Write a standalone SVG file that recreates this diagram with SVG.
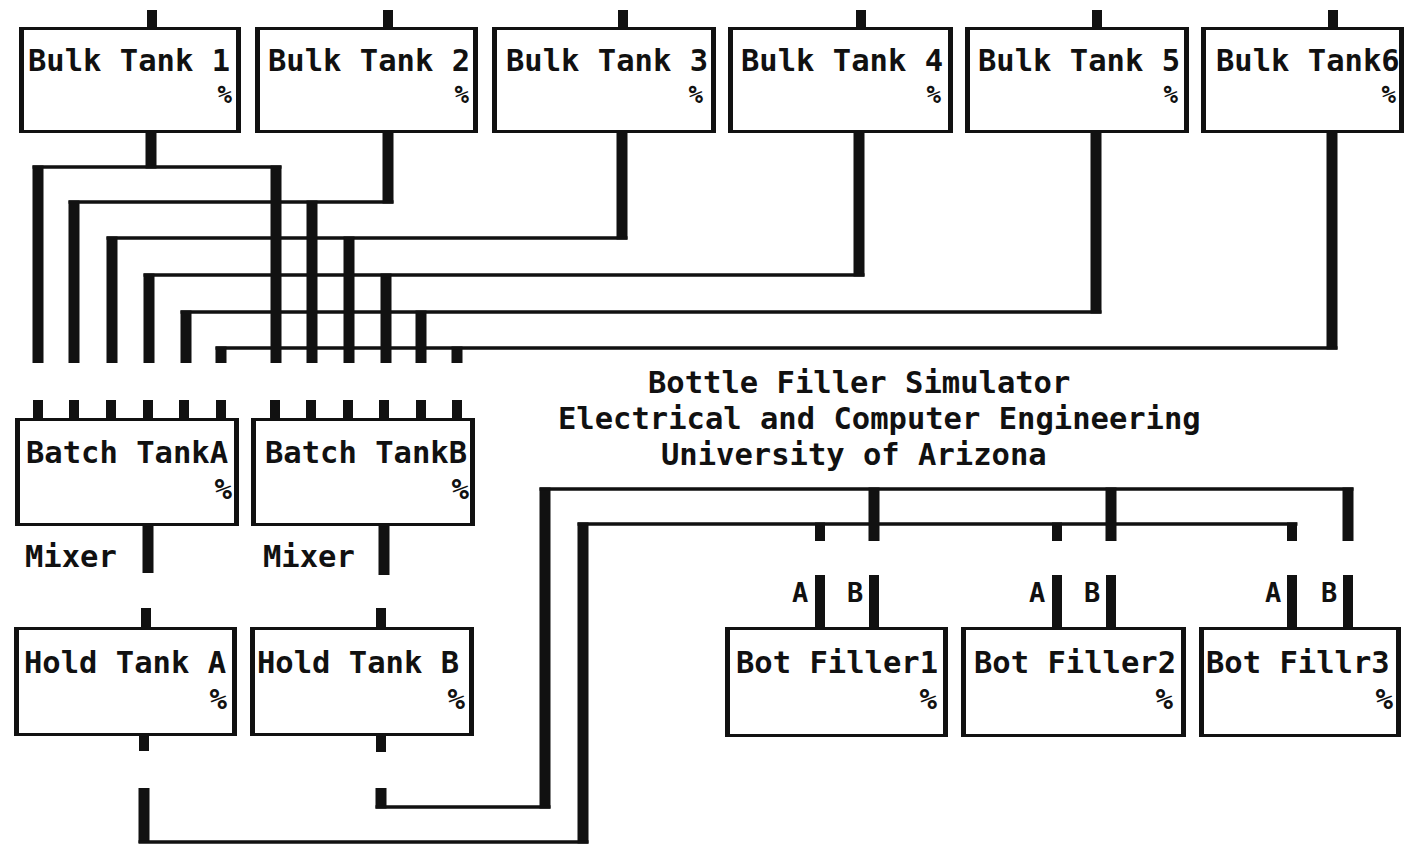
<svg xmlns="http://www.w3.org/2000/svg" width="1406" height="846" viewBox="0 0 1406 846">
<style>
.bg{fill:#fff}
.box{fill:#fff;stroke:#111;stroke-width:3}
.side{fill:none;stroke:#111;stroke-width:5}
.t{font-family:"DejaVu Sans Mono","Liberation Mono",monospace;font-weight:bold;font-size:30.5px;fill:#111}
.p{font-family:"DejaVu Sans Mono","Liberation Mono",monospace;font-weight:bold;font-size:29px;fill:#111;text-anchor:end}
.q{font-family:"DejaVu Sans Mono","Liberation Mono",monospace;font-weight:bold;font-size:24px;fill:#111;text-anchor:end}
.s{font-family:"DejaVu Sans Mono","Liberation Mono",monospace;font-weight:bold;font-size:27px;fill:#111}
.pipe{fill:none;stroke:#111;stroke-width:11}
.stub{fill:none;stroke:#111;stroke-width:10}
.line{fill:none;stroke:#111;stroke-width:3.5}
</style>
<rect class="bg" x="0" y="0" width="1406" height="846"/>

<g id="connectors">
  <!-- Bulk tanks to batch tanks -->
  <path class="pipe" d="M151 133V168.5M388 133V203.5M622 133V239.5M859 133V276.5M1096 133V313.5M1332 133V349.5"/>
  <path class="line" d="M32.5 167H281.5M68.5 202H393.5M106.5 238H627.5M143.5 275H864.5M180.5 312H1101.5M215.5 348H1337.5"/>
  <path class="pipe" d="M38 165.5V363M276 165.5V363M74 200.5V363M312 200.5V363M112 236.5V363M349 236.5V363M149 273.5V363M386 273.5V363M186 310.5V363M421 310.5V363M221 346.5V363M457 346.5V363"/>
  <!-- Mixers -->
  <path class="pipe" d="M148 526V573M384 526V575"/>
  <!-- Hold tanks to fillers -->
  <path class="pipe" d="M144 788V843M583 843.5V522.5M381 788V808.5M545 808.5V487.5"/>
  <path class="line" d="M138.5 842H588.5M577.5 524H1297.5M375.5 807H550.5M539.5 489H1353.5"/>
  <path class="stub" d="M820 522.5V541M1057 522.5V541M1292 522.5V541"/>
  <path class="pipe" d="M874 487.5V541M1111 487.5V541M1348 487.5V541"/>
</g>

<g id="bulk1">
  <path class="stub" d="M152 10V28M151 133V140"/>
  <rect class="box" x="20.5" y="28.5" width="219" height="103"/>
  <path class="side" d="M21.5 27V133M238.5 27V133"/>
  <text class="t" x="28" y="71">Bulk Tank 1</text>
  <text class="q" x="232" y="103">%</text>
</g>
<g id="bulk2">
  <path class="stub" d="M388 10V28"/>
  <rect class="box" x="256.5" y="28.5" width="220" height="103"/>
  <path class="side" d="M257.5 27V133M475.5 27V133"/>
  <text class="t" x="268" y="71">Bulk Tank 2</text>
  <text class="q" x="469" y="103">%</text>
</g>
<g id="bulk3">
  <path class="stub" d="M623 10V28"/>
  <rect class="box" x="493.5" y="28.5" width="221" height="103"/>
  <path class="side" d="M494.5 27V133M713.5 27V133"/>
  <text class="t" x="506" y="71">Bulk Tank 3</text>
  <text class="q" x="703" y="103">%</text>
</g>
<g id="bulk4">
  <path class="stub" d="M861 10V28"/>
  <rect class="box" x="729.5" y="28.5" width="222" height="103"/>
  <path class="side" d="M730.5 27V133M950.5 27V133"/>
  <text class="t" x="741" y="71">Bulk Tank 4</text>
  <text class="q" x="941" y="103">%</text>
</g>
<g id="bulk5">
  <path class="stub" d="M1097 10V28"/>
  <rect class="box" x="966.5" y="28.5" width="221" height="103"/>
  <path class="side" d="M967.5 27V133M1186.5 27V133"/>
  <text class="t" x="978" y="71">Bulk Tank 5</text>
  <text class="q" x="1178" y="103">%</text>
</g>
<g id="bulk6">
  <path class="stub" d="M1333 10V28"/>
  <rect class="box" x="1202.5" y="28.5" width="200" height="103"/>
  <path class="side" d="M1203.5 27V133M1401.5 27V133"/>
  <text class="t" x="1216" y="71">Bulk Tank6</text>
  <text class="q" x="1396" y="103">%</text>
</g>

<g id="batchA">
  <path class="stub" d="M38 400V418M74 400V418M111 400V418M148 400V418M184 400V418M221 400V418"/>
  <rect class="box" x="16.5" y="419.5" width="221" height="105"/>
  <path class="side" d="M17.5 418V526M236.5 418V526"/>
  <text class="t" x="26" y="463">Batch TankA</text>
  <text class="p" x="232" y="499">%</text>
</g>
<g id="batchB">
  <path class="stub" d="M275 400V418M311 400V418M348 400V418M384 400V418M421 400V418M457 400V418"/>
  <rect class="box" x="252.5" y="419.5" width="221" height="105"/>
  <path class="side" d="M253.5 418V526M472.5 418V526"/>
  <text class="t" x="265" y="463">Batch TankB</text>
  <text class="p" x="469" y="499">%</text>
</g>
<g id="mixerA"><text class="t" x="25" y="567">Mixer</text></g>
<g id="mixerB"><text class="t" x="263" y="567">Mixer</text></g>

<g id="holdA">
  <path class="stub" d="M146 608V627M144 736V751"/>
  <rect class="box" x="15.5" y="628.5" width="220" height="106"/>
  <path class="side" d="M16.5 627V736M234.5 627V736"/>
  <text class="t" x="24" y="673">Hold Tank A</text>
  <text class="p" x="227" y="709">%</text>
</g>
<g id="holdB">
  <path class="stub" d="M381 608V627M381 736V752"/>
  <rect class="box" x="251.5" y="628.5" width="221" height="106"/>
  <path class="side" d="M252.5 627V736M471.5 627V736"/>
  <text class="t" x="257" y="673">Hold Tank B</text>
  <text class="p" x="465" y="709">%</text>
</g>

<g id="title">
  <text class="t" x="648" y="393">Bottle Filler Simulator</text>
  <text class="t" x="558" y="429">Electrical and Computer Engineering</text>
  <text class="t" x="661" y="465">University of Arizona</text>
</g>

<g id="filler1">
  <path class="stub" d="M820 575V627M874 575V627"/>
  <text class="s" x="792" y="602">A</text>
  <text class="s" x="847" y="602">B</text>
  <rect class="box" x="726.5" y="628.5" width="220" height="107"/>
  <path class="side" d="M727.5 627V737M945.5 627V737"/>
  <text class="t" x="736" y="673">Bot Filler1</text>
  <text class="p" x="937" y="709">%</text>
</g>
<g id="filler2">
  <path class="stub" d="M1057 575V627M1111 575V627"/>
  <text class="s" x="1029" y="602">A</text>
  <text class="s" x="1084" y="602">B</text>
  <rect class="box" x="962.5" y="628.5" width="222" height="107"/>
  <path class="side" d="M963.5 627V737M1183.5 627V737"/>
  <text class="t" x="974" y="673">Bot Filler2</text>
  <text class="p" x="1173" y="709">%</text>
</g>
<g id="filler3">
  <path class="stub" d="M1292 575V627M1348 575V627"/>
  <text class="s" x="1265" y="602">A</text>
  <text class="s" x="1321" y="602">B</text>
  <rect class="box" x="1200.5" y="628.5" width="199" height="107"/>
  <path class="side" d="M1201.5 627V737M1398.5 627V737"/>
  <text class="t" x="1206" y="673">Bot Fillr3</text>
  <text class="p" x="1393" y="709">%</text>
</g>
</svg>
